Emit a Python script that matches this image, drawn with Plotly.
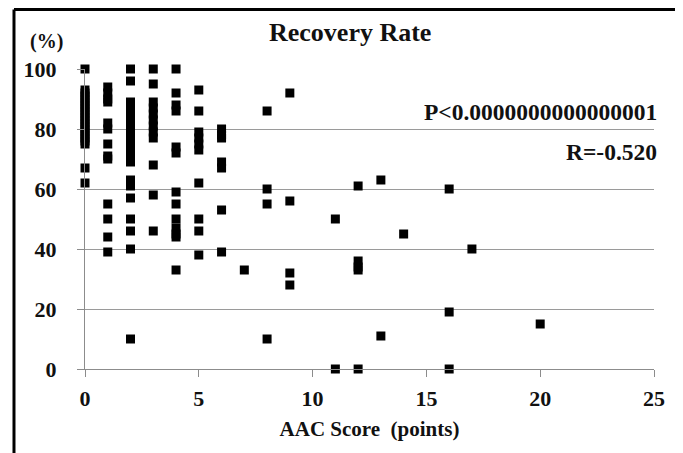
import plotly.graph_objects as go

# Data (AAC score in points, recovery rate in %)
aac_score = (
    [0] * 22 + [1] * 13 + [2] * 20 + [3] * 12 + [4] * 13 + [5] * 10 + [6] * 7
    + [7] + [8] * 4 + [9] * 4 + [11] * 2 + [12] * 5 + [13] * 2 + [14]
    + [16] * 3 + [17] + [20]
)
recovery_rate = [
    # x=0
    100, 93, 92, 91, 90, 89, 88, 87, 86, 85, 84, 83, 82, 81, 80, 79, 78, 77, 76, 75, 67, 62,
    # x=1
    94, 92, 90, 89, 82, 80, 75, 71, 70, 55, 50, 44, 39,
    # x=2
    100, 96, 89, 87, 85, 83, 81, 79, 77, 75, 73, 71, 69, 63, 61, 57, 50, 46, 40, 10,
    # x=3
    100, 95, 89, 87, 85, 83, 81, 79, 77, 68, 58, 46,
    # x=4
    100, 92, 88, 86, 74, 72, 59, 55, 50, 47, 45, 44, 33,
    # x=5
    93, 86, 79, 77, 75, 73, 62, 50, 46, 38,
    # x=6
    80, 78, 77, 69, 67, 53, 39,
    # x=7
    33,
    # x=8
    86, 60, 55, 10,
    # x=9
    92, 56, 32, 28,
    # x=11
    50, 0,
    # x=12
    61, 36, 34, 33, 0,
    # x=13
    63, 11,
    # x=14
    45,
    # x=16
    60, 19, 0,
    # x=17
    40,
    # x=20
    15,
]

x_ticks = [0, 5, 10, 15, 20, 25]
y_ticks = [0, 20, 40, 60, 80, 100]

title_text = "Recovery Rate"
x_title = "AAC Score\u00a0\u00a0(points)"
y_unit = "(%)"
p_text = "P<0.0000000000000001"
r_text = "R=-0.520"

FONT = "Liberation Serif"

fig = go.Figure()
fig.add_trace(go.Scatter(
    x=aac_score, y=recovery_rate, mode="markers",
    marker=dict(symbol="square", size=9, color="black", line=dict(width=0)),
    cliponaxis=False, showlegend=False,
))

# the page places the figure 8px from the top-left corner of the window
fig.update_layout(
    width=675, height=445,
    margin=dict(l=77, r=29, t=61, b=84, pad=0, autoexpand=False),
    paper_bgcolor="white", plot_bgcolor="white",
    font=dict(family=FONT, color="black", size=20, weight="bold"),
    xaxis=dict(
        range=[0, 25], tickvals=x_ticks, showgrid=False, zeroline=False, automargin=False,
        showline=True, linecolor="#8c8c8c", linewidth=1.3,
        ticks="outside", ticklen=7, tickcolor="#8c8c8c", tickwidth=1.3,
        tickfont=dict(family=FONT, size=22, weight="bold", color="#111"),
        ticklabelstandoff=2,
        title=dict(text=x_title, font=dict(family=FONT, size=21, weight="bold", color="#111"), standoff=11),
    ),
    yaxis=dict(
        range=[0, 100], tickvals=y_ticks, showgrid=True, gridcolor="#9a9a9a", gridwidth=1.3,
        zeroline=False, automargin=False, showline=True, linecolor="#8c8c8c", linewidth=1.3,
        ticks="outside", ticklen=7, tickcolor="#8c8c8c", tickwidth=1.3,
        tickfont=dict(family=FONT, size=22, weight="bold", color="#111"),
        ticklabelstandoff=16,
    ),
)

annotations = [
    dict(text=title_text, x=0.4666, y=1.123, font=dict(size=26)),
    dict(text=y_unit, x=-0.0685, y=1.09, font=dict(size=20)),
    dict(text=p_text, x=1.0088, y=0.858, xanchor="right", font=dict(size=23.5)),
    dict(text=r_text, x=1.0088, y=0.722, xanchor="right", font=dict(size=23.5)),
]
for a in annotations:
    a.setdefault("xanchor", "center")
    fig.add_annotation(xref="paper", yref="paper", showarrow=False, yanchor="middle",
                       font=dict(family=FONT, weight="bold", color="#111", size=a.pop("font")["size"]),
                       **a)

# Frame around the figure (open at the bottom, as in the reference)
xl, xr, yt, yb = -0.1248, 1.0457, 1.198, -0.32
for x0, y0, x1, y1 in [(xl, yb, xl, yt), (xl, yt, xr, yt), (xr, yt, xr, yb)]:
    fig.add_shape(type="line", xref="paper", yref="paper", x0=x0, y0=y0, x1=x1, y1=y1,
                  line=dict(color="black", width=3))

fig.write_html("out.html")
